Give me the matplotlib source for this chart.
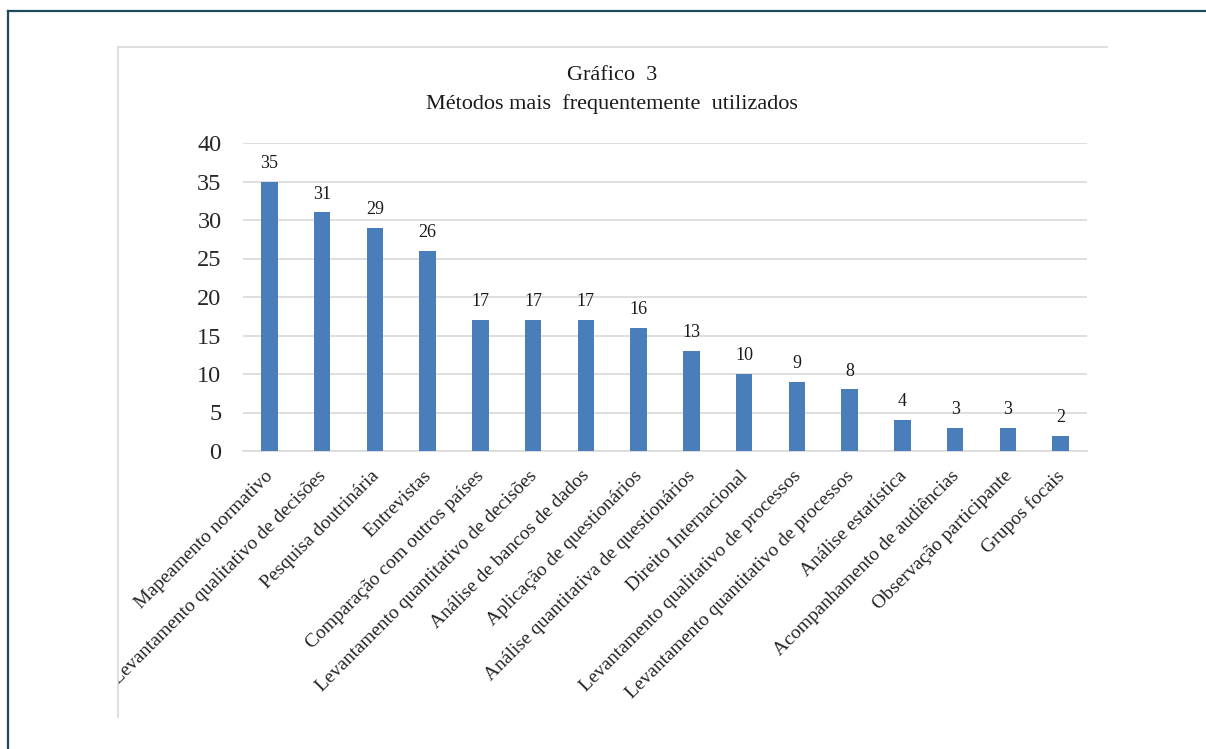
import matplotlib.pyplot as plt
from matplotlib.lines import Line2D
from matplotlib.transforms import Bbox, TransformedBbox
import numpy as np

categories = ["Mapeamento normativo", "Levantamento qualitativo de decisões",
              "Pesquisa doutrinária", "Entrevistas", "Comparação com outros países",
              "Levantamento quantitativo de decisões", "Análise de bancos de dados",
              "Aplicação de questionários", "Análise quantitativa de questionários",
              "Direito Internacional", "Levantamento qualitativo de processos",
              "Levantamento quantitativo de processos", "Análise estatística",
              "Acompanhamento de audiências", "Observação participante", "Grupos focais"]
values = [35, 31, 29, 26, 17, 17, 17, 16, 13, 10, 9, 8, 4, 3, 3, 2]
yticks = [0, 5, 10, 15, 20, 25, 30, 35, 40]

plt.rcParams['font.family'] = ['Liberation Serif', 'DejaVu Serif']
W, H = 1206, 749
fig = plt.figure(figsize=(W / 100, H / 100), dpi=100)

# outer frame (top + left) and inner chart box (top + left)
fig.add_artist(Line2D([8 / W, 1], [1 - 10.5 / H] * 2, color='#1d4a5c', lw=1.6))
fig.add_artist(Line2D([8 / W] * 2, [1 - 10.5 / H, 0], color='#1d4a5c', lw=1.6))
fig.add_artist(Line2D([118 / W, 1107 / W], [1 - 47 / H] * 2, color='#d9d9d9', lw=1.2))
fig.add_artist(Line2D([118 / W] * 2, [1 - 47 / H, 1 - 717 / H], color='#d9d9d9', lw=1.2))

ax = fig.add_axes([243 / W, 1 - 451 / H, 844 / W, 308 / H])
x = np.arange(len(values))
ax.bar(x, values, width=0.31, color='#4a7ebb', zorder=3)
ax.set_xlim(-0.5, len(values) - 0.5)
ax.set_ylim(0, 40)
ax.set_yticks(yticks)
ax.yaxis.grid(True, color='#d9d9d9', lw=1.2, zorder=0)
for s in ['top', 'right', 'left']:
    ax.spines[s].set_visible(False)
ax.spines['bottom'].set_color('#d9d9d9')
ax.spines['bottom'].set_linewidth(1.2)
ax.tick_params(axis='y', length=0, labelsize=17.5, pad=15.5, labelcolor='#262626')
ax.tick_params(axis='x', length=0, pad=15)
ax.set_xticks(x)
ax.set_xticklabels(categories, rotation=45, ha='right', va='center_baseline',
                   rotation_mode='anchor', fontsize=14, color='#262626')

# labels are cut off by the chart box on the left
clip = TransformedBbox(Bbox([[118 / W, 0], [1, 1]]), fig.transFigure)
for t in ax.get_xticklabels():
    t.set_clip_on(True)
    t.set_clip_box(clip)

for xi, v in zip(x, values):
    ax.annotate(str(v), (xi, v), xytext=(0, 7), textcoords='offset points',
                ha='center', va='bottom', fontsize=13, color='#1a1a1a')

fig.text(612 / W, 1 - 76 / H, "Gráfico  3", ha='center', va='center', fontsize=16, color='#1a1a1a')
fig.text(612 / W, 1 - 104 / H, "Métodos mais  frequentemente  utilizados", ha='center', va='center',
         fontsize=16, color='#1a1a1a')

fig.savefig('out.png', dpi=100)
